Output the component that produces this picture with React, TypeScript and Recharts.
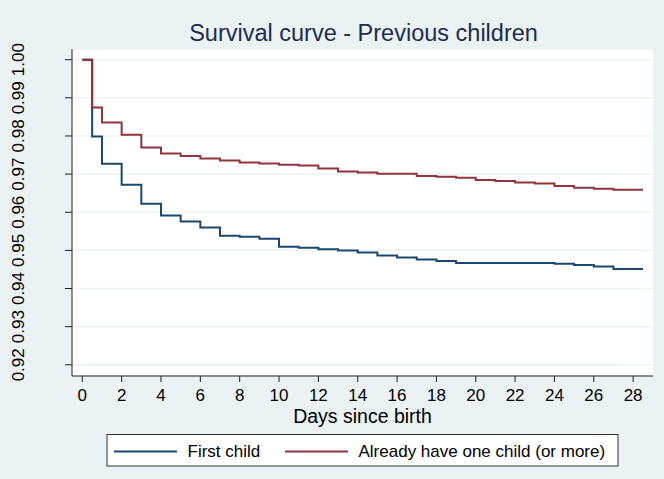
import React from 'react';
import { LineChart, Line, XAxis, YAxis, CartesianGrid, Label } from 'recharts';

// Kaplan-Meier survival estimates
const days = [0, 0.5, 1, 2, 3, 4, 5, 6, 7, 8, 9, 10, 11, 12, 13, 14, 15, 16, 17, 18, 19, 20, 21, 22, 23, 24, 25, 26, 27, 28, 28.5];

const firstChild = [
  1.0, 0.97987, 0.9727, 0.96719, 0.9622, 0.95913, 0.95756, 0.95598, 0.95381, 0.95354,
  0.95302, 0.95092, 0.95066, 0.95031, 0.94995, 0.94942, 0.94864, 0.94811, 0.94759, 0.94724,
  0.94672, 0.94672, 0.94672, 0.94672, 0.94672, 0.94646, 0.94619, 0.94575, 0.94514, 0.94514,
  0.94514,
];

const alreadyHave = [
  1.0, 0.98748, 0.98354, 0.98031, 0.97698, 0.97541, 0.97472, 0.97409, 0.97357, 0.97304,
  0.97278, 0.97244, 0.97226, 0.97147, 0.97068, 0.97042, 0.97008, 0.97008, 0.96947, 0.96929,
  0.96903, 0.96843, 0.96816, 0.9678, 0.96753, 0.96685, 0.9664, 0.96614, 0.96588, 0.96588,
  0.96588,
];

const xTicks = [0, 2, 4, 6, 8, 10, 12, 14, 16, 18, 20, 22, 24, 26, 28];
const yTicks = [0.92, 0.93, 0.94, 0.95, 0.96, 0.97, 0.98, 0.99, 1.0];

const series = [
  { key: 'first', name: 'First child', color: '#1a476f' },
  { key: 'more', name: 'Already have one child (or more)', color: '#90353b' },
];

const data = days.map((d, i) => ({ day: d, first: firstChild[i], more: alreadyHave[i] }));

const FONT = '"Liberation Sans", Arial, sans-serif';
const BG = '#eaf2f3';

function YTick(props: any) {
  const { x, y, payload } = props;
  return (
    <text
      x={x}
      y={y}
      transform={`rotate(-90, ${x}, ${y})`}
      textAnchor="middle"
      fontSize={17}
      fontFamily={FONT}
      fill="#000"
    >
      {Number(payload.value).toFixed(2)}
    </text>
  );
}

export default function App() {
  return (
    <div style={{ position: 'absolute', left: 0, top: 0, width: 664, height: 479, background: BG, fontFamily: FONT }}>
      <LineChart width={664} height={479} data={data} margin={{ top: 49, right: 11, bottom: 0, left: 0 }}>
        <CartesianGrid vertical={false} stroke={BG} strokeWidth={1.5} fill="#ffffff" />
        <XAxis
          dataKey="day"
          type="number"
          domain={[-0.524, 29.01]}
          ticks={xTicks}
          allowDataOverflow
          height={103}
          tickSize={6}
          tickMargin={7}
          stroke="#222"
          tick={{ fill: '#000', fontSize: 17, fontFamily: FONT }}
        >
          <Label
            content={(p: any) => {
              const vb = p.viewBox;
              return (
                <text x={vb.x + vb.width / 2} y={vb.y + 46.5} textAnchor="middle" fontSize={19.5} fontFamily={FONT} fill="#000">
                  Days since birth
                </text>
              );
            }}
          />
        </XAxis>
        <YAxis
          type="number"
          domain={[0.91706, 1.0028]}
          ticks={yTicks}
          allowDataOverflow
          width={72}
          tickSize={7}
          tickMargin={41}
          stroke="#222"
          tick={<YTick />}
        />
        {series.map((s) => (
          <Line
            key={s.key}
            type="stepAfter"
            dataKey={s.key}
            name={s.name}
            stroke={s.color}
            strokeWidth={2}
            dot={false}
            isAnimationActive={false}
          />
        ))}
      </LineChart>
      <svg width={664} height={479} style={{ position: 'absolute', left: 0, top: 0, pointerEvents: 'none' }}>
        <text x={363.5} y={41} textAnchor="middle" fontSize={23.5} fontFamily={FONT} fill="#1c2b50">
          Survival curve - Previous children
        </text>
        <rect x={107} y={434.5} width={511} height={31.5} fill="#fff" stroke="#333" strokeWidth={1} />
        {series.map((s, i) => {
          const x0 = i === 0 ? 114 : 285;
          return (
            <g key={s.key}>
              <line x1={x0} x2={x0 + 63} y1={451.5} y2={451.5} stroke={s.color} strokeWidth={2} />
              <text x={x0 + 73.5} y={456.5} fontSize={17} fontFamily={FONT} fill="#000">
                {s.name}
              </text>
            </g>
          );
        })}
      </svg>
    </div>
  );
}
